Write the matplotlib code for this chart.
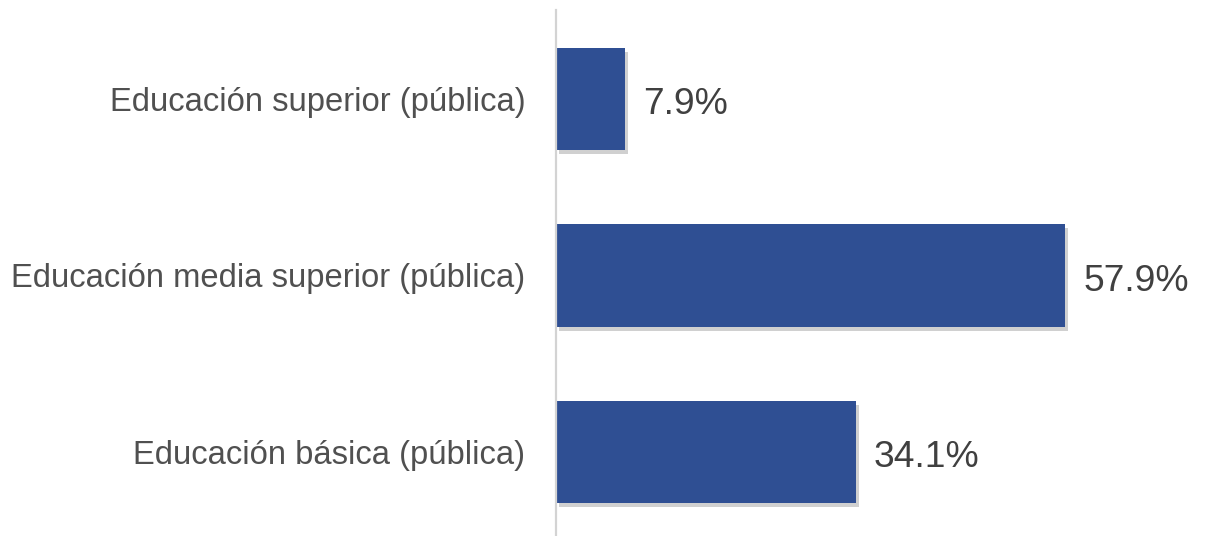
import matplotlib.pyplot as plt
import matplotlib.patheffects as pe

plt.rcParams['font.family'] = ['Liberation Sans', 'DejaVu Sans']

categories = [
    "Educación básica (pública)",
    "Educación media superior (pública)",
    "Educación superior (pública)",
]
values = [34.1, 57.9, 7.9]
value_labels = ["34.1%", "57.9%", "7.9%"]

fig = plt.figure(figsize=(12.06, 5.36), dpi=100)
ax = fig.add_axes((556 / 1206, 0.0, 1 - 556 / 1206, 1 - 10 / 536))

y = list(range(len(categories)))
bars = ax.barh(y, values, height=0.58, color='#2f4f93', zorder=2)
for b in bars:
    b.set_path_effects([
        pe.SimplePatchShadow(offset=(2, -3), shadow_rgbFace='#666666', alpha=0.3),
        pe.Normal(),
    ])

for yi, v, lab in zip(y, values, value_labels):
    ax.annotate(lab, (v, yi), xytext=(13, -4), textcoords='offset points',
                va='center', ha='left', fontsize=26.8, color='#404040')

ax.set_xlim(0, 73.9)
ax.set_ylim(-0.476, 2.504)
ax.set_xticks([])
ax.set_yticks(y)
ax.set_yticklabels(categories, fontsize=23.6, color='#505050')
ax.tick_params(axis='y', length=0, pad=22)

for s in ['top', 'right', 'bottom']:
    ax.spines[s].set_visible(False)
ax.spines['left'].set_color('#d3d3d3')
ax.spines['left'].set_linewidth(1.6)

fig.savefig('out.png', dpi=100)
